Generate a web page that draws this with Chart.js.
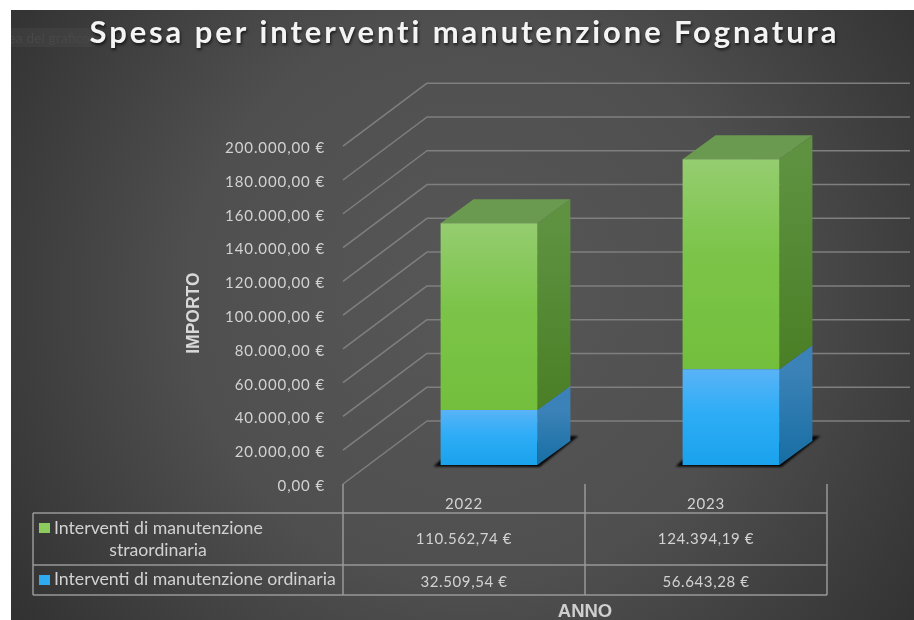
<!DOCTYPE html>
<html>
<head>
<meta charset="utf-8">
<style>html,body{margin:0;padding:0;background:#fff}canvas{display:block}</style>
<script src="https://cdn.jsdelivr.net/npm/chart.js@4"></script>
</head>
<body>
<div style="width:914px;height:620px"><canvas id="c" width="914" height="620"></canvas></div>
<script>
const titleText = 'Spesa per interventi manutenzione Fognatura';
const categories = ['2022', '2023'];
const ordinaria = [32509.54, 56643.28];
const straordinaria = [110562.74, 124394.19];
const ordinariaLabel = 'Interventi di manutenzione ordinaria';
const straordinariaLabel = ['Interventi di manutenzione', 'straordinaria'];
const axisMin = 0, axisMax = 200000, axisStep = 20000;

const FONT = 'Lato';
const fmt = v => v.toLocaleString('de-DE', {minimumFractionDigits: 2, maximumFractionDigits: 2}) + ' €';
const BX = 25, BY = -19;       // bar plane offset from front plane
const DX = 33, DY = -24;       // bar depth
const WX = 84, WY = -63;       // wall depth
function grad(c, y0, y1, a, b, m) {
  const g = c.createLinearGradient(0, y0, 0, y1);
  g.addColorStop(0, a);
  if (m) g.addColorStop(0.45, m);
  g.addColorStop(1, b);
  return g;
}
function shifted(obj, method, dx, dy, spacing) {
  const d = obj[method];
  obj[method] = function (...args) {
    const c = this.ctx;
    c.save();
    c.translate(dx, dy);
    if (spacing) c.letterSpacing = spacing;
    d.apply(this, args);
    c.restore();
  };
}

function barFill(a, m, b) {
  return ctx => {
    const chart = ctx.chart;
    if (!chart.chartArea) return a;
    const y = chart.scales.y, i = ctx.dataIndex;
    const lo = ctx.datasetIndex === 0 ? 0 : ordinaria[i];
    const hi = lo + ctx.dataset.data[i];
    return grad(chart.ctx, y.getPixelForValue(hi), y.getPixelForValue(lo), a, b, m);
  };
}

const scene = {
  id: 'scene',
  beforeDraw(chart) {
    const c = chart.ctx, t = chart.titleBlock;
    if (t && !t._wrapped) {
      const d = t.draw;
      t._wrapped = true;
      t.draw = function () {
        c.save();
        c.translate(51, 0);
        c.letterSpacing = '2.9px';
        c.shadowColor = 'rgba(0,0,0,0.65)';
        c.shadowBlur = 3; c.shadowOffsetX = 1; c.shadowOffsetY = 2;
        d.call(this);
        c.restore();
      };
      shifted(chart.scales.y, 'drawLabels', 0, 2, '0.9px');
      shifted(chart.scales.x, 'drawLabels', 0, 0, '0.8px');
      shifted(chart.scales.y, 'drawTitle', 0, -2);
      shifted(chart.scales.x, 'drawTitle', 0, 3);
    }
    c.save();
    c.fillStyle = '#fff'; c.fillRect(0, 0, 914, 620);
    const g = c.createRadialGradient(470, 300, 40, 470, 300, 580);
    g.addColorStop(0, '#565656'); g.addColorStop(0.45, '#4f4f4f'); g.addColorStop(1, '#2f2f2f');
    c.fillStyle = g; c.fillRect(11, 10, 903, 610);
    c.beginPath(); c.rect(11, 28, 84, 19); c.clip();
    c.fillStyle = 'rgba(255,255,255,0.035)'; c.fillRect(11, 28, 84, 19);
    c.fillStyle = '#484848'; c.font = '14px ' + FONT; c.textAlign = 'right'; c.textBaseline = 'middle';
    c.fillText('Area del grafico', 90, 38);
    c.restore();
  },
  beforeDatasetsDraw(chart) {
    const c = chart.ctx, ya = chart.scales.y, a = chart.chartArea;
    c.save();
    c.strokeStyle = '#7f7f7f'; c.lineWidth = 1.5; c.lineJoin = 'round';
    ya.ticks.forEach(t => {
      const p = ya.getPixelForValue(t.value);
      c.beginPath();
      c.moveTo(a.left, p);
      c.lineTo(a.left + WX, p + WY);
      c.lineTo(910, p + WY);
      c.stroke();
    });
    c.restore();

    c.save();
    c.translate(BX, BY);
    // floor shadow
    chart.getDatasetMeta(0).data.forEach(b => {
      const L = b.x - b.width / 2, R = b.x + b.width / 2, B = b.base;
      c.save();
      c.filter = 'blur(1px)';
      c.fillStyle = 'rgba(0,0,0,0.95)';
      c.beginPath();
      c.moveTo(L - 7, B + 1.5); c.lineTo(R + 2, B + 2); c.lineTo(R + DX + 8, B + DY - 5); c.lineTo(R + DX, B + DY - 5);
      c.lineTo(L, B - 5); c.closePath(); c.fill();
      c.restore();
    });
    // side and top faces
    const sides = [['#3b82b8', '#176ea3'], ['#5e9240', '#4a7f26']];
    [0, 1].forEach(ds => {
      chart.getDatasetMeta(ds).data.forEach(b => {
        const R = b.x + b.width / 2, L = b.x - b.width / 2;
        c.fillStyle = grad(c, b.y, b.base, sides[ds][0], sides[ds][1]);
        c.beginPath();
        c.moveTo(R, b.y); c.lineTo(R + DX, b.y + DY); c.lineTo(R + DX, b.base + DY); c.lineTo(R, b.base);
        c.closePath(); c.fill();
        if (ds === 1) {
          c.fillStyle = '#6a9a4f';
          c.beginPath();
          c.moveTo(L, b.y); c.lineTo(L + DX, b.y + DY); c.lineTo(R + DX, b.y + DY); c.lineTo(R, b.y);
          c.closePath(); c.fill();
        }
      });
    });
    // keep this translate for the library's own bar drawing
  },
  afterDatasetsDraw(chart) {
    const c = chart.ctx, a = chart.chartArea, xa = chart.scales.x;
    c.restore();
    c.save();
    const tL = 33, tT = 513, r1 = 565, tB = 595;
    const cols = [a.left, (a.left + a.right) / 2, a.right];
    c.strokeStyle = '#989898'; c.lineWidth = 1.5;
    c.beginPath();
    cols.forEach(x => { c.moveTo(x, a.bottom); c.lineTo(x, tB); });
    [tT, r1, tB].forEach(y => { c.moveTo(tL, y); c.lineTo(a.right, y); });
    c.moveTo(tL, tT); c.lineTo(tL, tB);
    c.stroke();

    c.fillStyle = '#8dcc5c'; c.fillRect(39, 523, 11, 10);
    c.fillStyle = '#2fa9f0'; c.fillRect(39, 575, 11, 10);

    c.fillStyle = '#d2d2d2'; c.textBaseline = 'middle';
    c.font = '17.7px ' + FONT;
    c.textAlign = 'left';
    c.fillText(straordinariaLabel[0], 54, 528);
    c.fillText(ordinariaLabel, 54, 579);
    c.textAlign = 'center';
    c.fillText(straordinariaLabel[1], 158, 550);
    c.font = '15px ' + FONT;
    c.letterSpacing = '0.6px';
    categories.forEach((_, i) => {
      const x = xa.getPixelForValue(i);
      c.fillText(fmt(straordinaria[i]), x, 539);
      c.fillText(fmt(ordinaria[i]), x, 582);
    });
    c.restore();
  }
};

new Chart(document.getElementById('c'), {
  type: 'bar',
  plugins: [scene],
  data: {
    labels: categories,
    datasets: [
      {label: ordinariaLabel, data: ordinaria, backgroundColor: barFill('#5ab3f6', '#2eadf6', '#1aa2ec'), clip: false},
      {label: straordinariaLabel.join(' '), data: straordinaria, backgroundColor: barFill('#95cd70', '#7cc449', '#73bf3c'), clip: false}
    ]
  },
  options: {
    responsive: false,
    animation: false,
    layout: {padding: {left: 0, right: 87, top: 0, bottom: 0}},
    datasets: {bar: {categoryPercentage: 1, barPercentage: 0.4}},
    plugins: {
      legend: {display: false},
      tooltip: {enabled: false},
      title: {
        display: true, text: titleText, color: '#f4f4f4',
        font: {family: FONT, size: 31, weight: 'bold', lineHeight: 1.2},
        padding: {top: 14, bottom: 95}
      }
    },
    scales: {
      x: {
        stacked: true,
        afterFit: s => { s.height = 136; },
        grid: {display: false, drawTicks: false},
        border: {display: false},
        ticks: {color: '#d2d2d2', font: {family: FONT, size: 15}, padding: 11},
        title: {display: true, text: 'ANNO', color: '#cfcfcf', padding: 0,
          font: {family: 'Liberation Sans', size: 18.5, weight: 'bold', lineHeight: 1.2}}
      },
      y: {
        stacked: true, min: axisMin, max: axisMax,
        afterFit: s => { s.width = 343; },
        grid: {display: false, drawTicks: false},
        border: {display: false},
        ticks: {stepSize: axisStep, color: '#d2d2d2', font: {family: FONT, size: 15}, padding: 18, callback: v => fmt(v)},
        title: {display: true, text: 'IMPORTO', color: '#d8d8d8', padding: {top: 184, bottom: 0},
          font: {family: 'Liberation Sans', size: 17.5, weight: 'bold', lineHeight: 1.2}}
      }
    }
  }
});
</script>
</body>
</html>
